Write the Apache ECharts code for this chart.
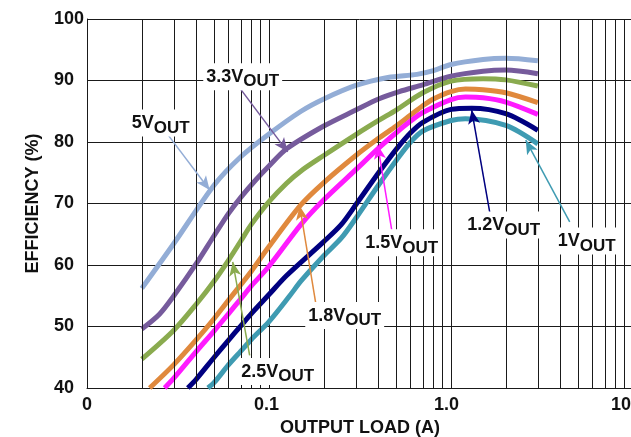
<!DOCTYPE html>
<html><head><meta charset="utf-8">
<script src="https://cdn.jsdelivr.net/npm/echarts@6/dist/echarts.min.js"></script>
<style>html,body{margin:0;padding:0;background:#fff}#c{width:631px;height:437px}</style>
</head><body><div id="c"></div>
<script>
// ---- data ----
const xTickValues = [0.01, 0.1, 1, 10];
const xTickLabels = ['0', '0.1', '1.0', '10'];
const yTicks = [40, 50, 60, 70, 80, 90, 100];
const minorX = [0.02,0.03,0.04,0.05,0.06,0.07,0.08,0.09,0.2,0.3,0.4,0.5,0.6,0.7,0.8,0.9,2,3,4,5,6,7,8,9];

const seriesNames = ['5V', '3.3V', '2.5V', '1.8V', '1.5V', '1.2V', '1V'];
const seriesColors = ['#93add6', '#765b9c', '#8aab4f', '#e0893d', '#ff1aff', '#000080', '#3f9bb2'];

const eff5V = [[0.02,56.2],[0.03,63.5],[0.05,73],[0.07,77.6],[0.1,81.3],[0.15,85],[0.2,87],[0.3,89.2],[0.45,90.5],[0.65,91],[0.8,91.6],[1,92.6],[1.5,93.4],[2,93.6],[3,93.2]];
const eff3V3 = [[0.02,49.6],[0.025,52],[0.03,55],[0.04,60.3],[0.05,64.8],[0.06,68.4],[0.07,71],[0.085,73.9],[0.1,76.1],[0.125,78.9],[0.2,82.6],[0.3,85.2],[0.4,87],[0.52,88.2],[0.7,89.3],[1,90.7],[1.5,91.5],[2,91.7],[3,91.1]];
const eff2V5 = [[0.02,44.7],[0.03,49.4],[0.04,53.7],[0.05,57.4],[0.06,60.8],[0.07,63.9],[0.08,66.6],[0.1,70.3],[0.125,73.3],[0.15,75.3],[0.2,77.8],[0.3,81.2],[0.4,83.5],[0.5,85.2],[0.7,88],[1,89.9],[1.5,90.3],[2,90.1],[3,89.1]];
const eff1V8 = [[0.0221,40],[0.03,43.8],[0.04,47.9],[0.05,51.3],[0.06,54.3],[0.07,56.8],[0.08,59],[0.1,63],[0.15,69.8],[0.2,73.4],[0.3,77.8],[0.4,80.6],[0.5,82.6],[0.6,84.4],[0.7,85.9],[0.8,87],[1,88.2],[1.2,88.6],[1.5,88.5],[2,88],[3,86.4]];
const eff1V5 = [[0.0267,40],[0.03,41.6],[0.04,46],[0.05,49.3],[0.06,52.1],[0.07,54.5],[0.08,56.6],[0.1,59.8],[0.15,66.6],[0.2,70.6],[0.3,75.5],[0.4,79],[0.5,81.5],[0.6,83.4],[0.7,84.8],[1,86.9],[1.2,87.3],[1.5,87.2],[2,86.5],[3,84.5]];
const eff1V2 = [[0.0358,40],[0.04,41.5],[0.05,45],[0.06,47.8],[0.07,50.1],[0.08,52.1],[0.1,55.2],[0.125,58.3],[0.2,63.8],[0.25,66.6],[0.3,69.8],[0.4,75],[0.5,78.8],[0.6,81.5],[0.7,83.2],[1,85.3],[1.3,85.5],[2,84.6],[3,81.9]];
const eff1V = [[0.0462,40],[0.05,40.9],[0.06,43.8],[0.07,46],[0.08,47.9],[0.1,50.8],[0.13,55],[0.15,57.4],[0.2,61.5],[0.25,64.4],[0.3,67.6],[0.4,73],[0.5,77],[0.6,80],[0.7,81.8],[1,83.5],[1.2,83.8],[2,82.7],[3,79.7]];
const seriesData = [eff5V, eff3V3, eff2V5, eff1V8, eff1V5, eff1V2, eff1V];

// annotation label centres and arrows (data coordinates)
const labelPos = [[0.0254,83.1],[0.0717,90.6],[0.1116,42.7],[0.2606,51.8],[0.5358,63.6],[1.948,66.5],[5.567,63.9]];
const arrowFrom = [[0.0278,81.2],[0.069,88.8],[0.0783,45.3],[0.1806,53.8],[0.4723,65.7],[1.632,68.6],[4.49,67.0]];
const arrowTo = [[0.0472,72.2],[0.1266,78.4],[0.0632,60.5],[0.1475,69.6],[0.3957,79.5],[1.299,85.2],[2.575,80.3]];

// ---- chart ----
const chart = echarts.init(document.getElementById('c'), null, {renderer: 'canvas'});
const FONT = 'Liberation Sans, Arial, sans-serif';
const labelShift = [0, 5, 9, 24];

const series = [];
series.push({
  type: 'line', data: [], z: 1, silent: true,
  markLine: {
    silent: true, symbol: 'none', animation: false,
    label: {show: false},
    lineStyle: {color: '#1a1a1a', width: 1, type: 'solid'},
    emphasis: {disabled: true},
    data: minorX.map(v => ({xAxis: v}))
  }
});
seriesNames.forEach((n, i) => {
  series.push({
    name: n, type: 'line', data: seriesData[i], smooth: 0.3, showSymbol: false, z: 3,
    lineStyle: {color: seriesColors[i], width: 5},
    itemStyle: {color: seriesColors[i]},
    emphasis: {disabled: true}
  });
});
// annotations
series.push({
  type: 'line', data: [], z: 6, silent: true,
  markLine: {
    silent: true, animation: false, symbol: ['none', 'arrow'], symbolSize: [9, 14],
    label: {show: false}, emphasis: {disabled: true},
    data: arrowFrom.map((f, i) => [
      {coord: f, lineStyle: {color: seriesColors[i], width: 1.5, type: 'solid'}, itemStyle: {color: seriesColors[i]}},
      {coord: arrowTo[i]}
    ])
  },
  markPoint: {
    silent: true, animation: false, symbol: 'rect', symbolSize: 0.01,
    itemStyle: {color: 'rgba(0,0,0,0)'},
    data: labelPos.map((p, i) => ({
      coord: p,
      label: {
        show: true, position: 'inside', backgroundColor: '#fff', padding: [1, 3, 0, 3],
        formatter: '{a|' + seriesNames[i] + '}{b|OUT}',
        rich: {
          a: {fontFamily: FONT, fontWeight: 'bold', fontSize: 18, color: '#111'},
          b: {fontFamily: FONT, fontWeight: 'bold', fontSize: 17, color: '#111', padding: [9, 0, 0, 0]}
        }
      }
    }))
  }
});

chart.setOption({
  animation: false,
  backgroundColor: '#fff',
  grid: {left: 87, right: -2, top: 19, bottom: 49, containLabel: false, outerBoundsMode: 'none'},
  xAxis: {
    type: 'log', logBase: 10, min: 0.01, max: 10,
    name: 'OUTPUT LOAD (A)', nameLocation: 'middle', nameGap: 26,
    nameTextStyle: {fontFamily: FONT, fontWeight: 'bold', fontSize: 18, color: '#111'},
    axisLine: {show: true, lineStyle: {color: '#1a1a1a', width: 1}},
    axisTick: {show: false},
    splitLine: {show: true, lineStyle: {color: '#1a1a1a', width: 1}},
    axisLabel: {
      fontFamily: FONT, fontWeight: 'bold', fontSize: 18, color: '#111', margin: 8, hideOverlap: false,
      formatter: v => {
        const k = Math.round(Math.log10(v)) + 2;
        return '{s' + k + '|' + xTickLabels[k] + '}';
      },
      rich: {
        s0: {fontFamily: FONT, fontWeight: 'bold', fontSize: 18, color: '#111', padding: [0, labelShift[0], 0, 0]},
        s1: {fontFamily: FONT, fontWeight: 'bold', fontSize: 18, color: '#111', padding: [0, labelShift[1], 0, 0]},
        s2: {fontFamily: FONT, fontWeight: 'bold', fontSize: 18, color: '#111', padding: [0, labelShift[2], 0, 0]},
        s3: {fontFamily: FONT, fontWeight: 'bold', fontSize: 18, color: '#111', padding: [0, labelShift[3], 0, 0]}
      }
    }
  },
  yAxis: {
    type: 'value', min: yTicks[0], max: yTicks[yTicks.length - 1], interval: 10,
    name: 'EFFICIENCY (%)', nameLocation: 'middle', nameGap: 45, nameRotate: 90,
    nameTextStyle: {fontFamily: FONT, fontWeight: 'bold', fontSize: 18, color: '#111'},
    axisLine: {show: true, lineStyle: {color: '#1a1a1a', width: 1}},
    axisTick: {show: false},
    splitLine: {show: true, lineStyle: {color: '#1a1a1a', width: 1}},
    axisLabel: {fontFamily: FONT, fontWeight: 'bold', fontSize: 18, color: '#111', margin: 33, align: 'left'}
  },
  series: series
});
</script></body></html>
